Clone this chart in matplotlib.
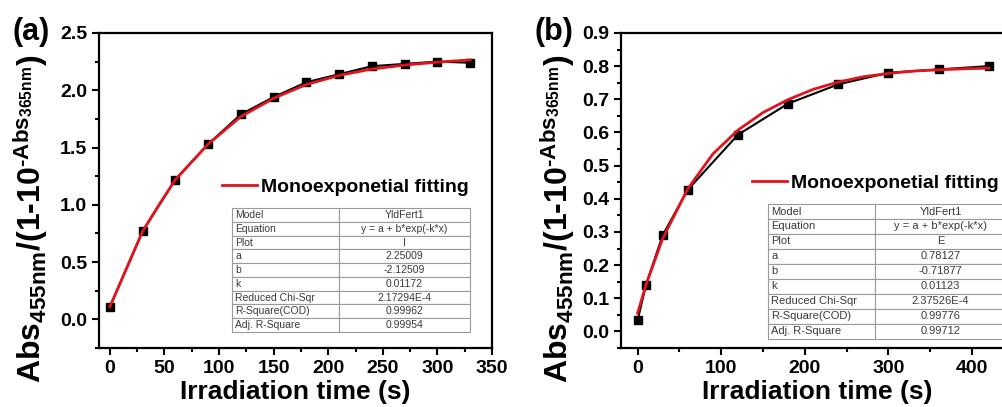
import matplotlib
matplotlib.use("Agg")
import matplotlib.pyplot as plt
from matplotlib.ticker import MultipleLocator

plt.rcParams["font.family"] = ["Liberation Sans", "DejaVu Sans"]
plt.rcParams["font.weight"] = "bold"
plt.rcParams["axes.labelweight"] = "bold"
plt.rcParams["mathtext.fontset"] = "custom"
plt.rcParams["mathtext.rm"] = "Liberation Sans:bold"
plt.rcParams["mathtext.it"] = "Liberation Sans:bold"
plt.rcParams["mathtext.bf"] = "Liberation Sans:bold"

# ---------------- data ----------------
time_a = [0, 30, 60, 90, 120, 150, 180, 210, 240, 270, 300, 330]
ratio_a = [0.11, 0.77, 1.22, 1.53, 1.79, 1.94, 2.07, 2.14, 2.21, 2.23, 2.25, 2.24]
fit_time_a = [0, 15, 30, 45, 60, 90, 120, 150, 180, 210, 240, 270, 300, 330]
fit_a = [0.11, 0.44, 0.77, 1.00, 1.22, 1.53, 1.77, 1.93, 2.05, 2.13, 2.185, 2.22, 2.245, 2.265]

time_b = [0, 10, 30, 60, 120, 180, 240, 300, 360, 420]
ratio_b = [0.033, 0.14, 0.29, 0.427, 0.593, 0.687, 0.745, 0.78, 0.79, 0.80]
fit_time_b = [0, 10, 30, 60, 90, 120, 150, 180, 210, 240, 270, 300, 330, 360, 390, 420]
fit_b = [0.055, 0.14, 0.28, 0.43, 0.535, 0.607, 0.66, 0.699, 0.73, 0.752,
         0.768, 0.778, 0.785, 0.789, 0.792, 0.794]

row_names = ["Model", "Equation", "Plot", "a", "b", "k",
             "Reduced Chi-Sqr", "R-Square(COD)", "Adj. R-Square"]
values_a = ["YldFert1", "y = a + b*exp(-k*x)", "I", "2.25009", "-2.12509",
            "0.01172", "2.17294E-4", "0.99962", "0.99954"]
values_b = ["YldFert1", "y = a + b*exp(-k*x)", "E", "0.78127", "-0.71877",
            "0.01123", "2.37526E-4", "0.99776", "0.99712"]

# U+2010 hyphen so mathtext does not turn it into a long minus
YLABEL = "Abs$_{\\mathrm{455nm}}$/(1-10$^{\\mathrm{\u2010Abs_{365nm}}}$)"

fig = plt.figure(figsize=(10.03, 4.07), dpi=100)
ax_a = fig.add_axes([0.0987, 0.145, 0.3918, 0.774])
ax_b = fig.add_axes([0.619, 0.145, 0.3918, 0.774])


def style(ax, xlim, ylim, xmaj, ymaj):
    ax.set_xlim(*xlim)
    ax.set_ylim(*ylim)
    ax.xaxis.set_major_locator(MultipleLocator(xmaj))
    ax.xaxis.set_minor_locator(MultipleLocator(xmaj / 2))
    ax.yaxis.set_major_locator(MultipleLocator(ymaj))
    ax.yaxis.set_minor_locator(MultipleLocator(ymaj / 2))
    ax.tick_params(which="both", direction="out", width=1.5, labelsize=14)
    ax.tick_params(which="major", length=5)
    ax.tick_params(which="minor", length=3)
    for s in ax.spines.values():
        s.set_linewidth(1.6)
    ax.set_xlabel("Irradiation time (s)", fontsize=19, labelpad=2)
    ax.set_ylabel(YLABEL, fontsize=23)


def add_table(ax, values, bbox, fs):
    tb = ax.table(cellText=[[n, v] for n, v in zip(row_names, values)],
                  colWidths=[0.45, 0.55], cellLoc="center", bbox=bbox)
    tb.auto_set_font_size(False)
    tb.set_fontsize(fs)
    for (r, c), cell in tb.get_celld().items():
        cell.set_edgecolor("#9a9a9a")
        cell.set_linewidth(0.8)
        txt = cell.get_text()
        txt.set_color("#3a3a3a")
        txt.set_fontweight("normal")
        if c == 0:
            cell.PAD = 0.03
            txt.set_horizontalalignment("left")
    return tb


# (a)
ax_a.plot(time_a, ratio_a, "s-", color="black", ms=5.5, lw=1.5)
ax_a.plot(fit_time_a, fit_a, color="#e0141e", lw=2, label="Monoexponetial fitting")
style(ax_a, (-10, 350), (-0.25, 2.5), 50, 0.5)
ax_a.yaxis.set_label_coords(-0.125, 0.41)
ax_a.legend(loc="center left", bbox_to_anchor=(0.288, 0.511), frameon=False,
            fontsize=14, handlelength=1.8, handletextpad=0.2, borderpad=0)
add_table(ax_a, values_a, [0.338, 0.051, 0.606, 0.393], 7.5)
fig.text(0.012, 0.921, "(a)", fontsize=22, va="center")

# (b)
ax_b.plot(time_b, ratio_b, "s-", color="black", ms=5.5, lw=1.5)
ax_b.plot(fit_time_b, fit_b, color="#e0141e", lw=2, label="Monoexponetial fitting")
style(ax_b, (-20, 450), (-0.05, 0.9), 100, 0.1)
ax_b.yaxis.set_label_coords(-0.112, 0.41)
ax_b.legend(loc="center left", bbox_to_anchor=(0.31, 0.524), frameon=False,
            fontsize=14, handlelength=1.8, handletextpad=0.2, borderpad=0)
add_table(ax_b, values_b, [0.374, 0.029, 0.606, 0.428], 8)
fig.text(0.533, 0.921, "(b)", fontsize=22, va="center")

fig.savefig("out.png", dpi=100)
